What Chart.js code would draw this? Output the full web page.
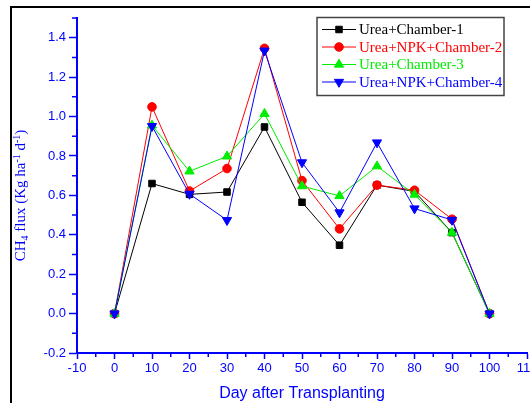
<!DOCTYPE html>
<html>
<head>
  <meta charset="UTF-8">
  <title>CH4 flux</title>
  <script src="https://cdn.jsdelivr.net/npm/chart.js"></script>
  <style>
    html, body { margin: 0; padding: 0; background: #fff; overflow: hidden; }
    #wrap { position: relative; width: 600px; height: 403px; }
  </style>
</head>
<body>
<div id="wrap"><canvas id="fluxChart"></canvas></div>

<script>
  // values
  const days = [0, 10, 20, 30, 40, 50, 60, 70, 80, 90, 100];
  const chamber1 = [0, 0.66, 0.605, 0.617, 0.947, 0.565, 0.347, 0.652, 0.62, 0.411, 0];
  const chamber2 = [0, 1.049, 0.622, 0.736, 1.346, 0.675, 0.43, 0.652, 0.626, 0.479, 0];
  const chamber3 = [0, 0.955, 0.722, 0.798, 1.014, 0.647, 0.597, 0.748, 0.604, 0.411, 0];
  const chamber4 = [0, 0.951, 0.607, 0.474, 1.334, 0.767, 0.513, 0.868, 0.533, 0.475, 0];
  const seriesLabels = ['Urea+Chamber-1', 'Urea+NPK+Chamber-2', 'Urea+Chamber-3', 'Urea+NPK+Chamber-4'];
  const xTicks = [-10, 0, 10, 20, 30, 40, 50, 60, 70, 80, 90, 100, 110];
  const yTicks = [-0.2, 0, 0.2, 0.4, 0.6, 0.8, 1.0, 1.2, 1.4];

  const axisBlue = '#0000ff';

  function pts(vals) {
    return vals.map((v, i) => ({x: days[i], y: v}));
  }

  // outer frame of the figure
  const framePlugin = {
    id: 'frame',
    beforeDraw(chart) {
      const ctx = chart.ctx;
      ctx.save();
      ctx.fillStyle = '#fff';
      ctx.fillRect(0, 0, chart.width, chart.height);
      ctx.fillStyle = '#000';
      ctx.fillRect(10, 6, 2, chart.height);
      ctx.fillRect(10, 6, chart.width, 2);
      ctx.restore();
    }
  };

  // minor ticks halfway between majors
  const minorTicks = {
    id: 'minorTicks',
    afterDraw(chart) {
      const ctx = chart.ctx;
      const xs = chart.scales.x, ys = chart.scales.y;
      ctx.save();
      ctx.strokeStyle = axisBlue;
      ctx.lineWidth = 1.5;
      ctx.beginPath();
      for (let i = 0; i < xTicks.length - 1; i++) {
        const px = xs.getPixelForValue((xTicks[i] + xTicks[i + 1]) / 2);
        ctx.moveTo(px, chart.chartArea.bottom);
        ctx.lineTo(px, chart.chartArea.bottom + 4);
      }
      const yMinor = yTicks.slice(0, -1).map((v, i) => (v + yTicks[i + 1]) / 2);
      yMinor.push(1.5);
      yMinor.forEach(v => {
        const py = ys.getPixelForValue(v);
        ctx.moveTo(chart.chartArea.left, py);
        ctx.lineTo(chart.chartArea.left - 5, py);
      });
      ctx.stroke();
      ctx.restore();
    }
  };

  // y title with subscript / superscripts
  const yTitle = {
    id: 'yTitle',
    afterDraw(chart) {
      const ctx = chart.ctx;
      const parts = [
        ['CH', 0], ['4', 1], [' flux (Kg ha', 0], ['-1', -1], [' d', 0], ['-1', -1], [')', 0]
      ];
      const big = '15px "Liberation Serif"', small = '10px "Liberation Serif"';
      ctx.save();
      ctx.fillStyle = axisBlue;
      ctx.textBaseline = 'middle';
      let total = 0;
      parts.forEach(p => { ctx.font = p[1] ? small : big; total += ctx.measureText(p[0]).width; });
      const cy = (chart.chartArea.top + chart.chartArea.bottom) / 2 + 10;
      ctx.translate(21, cy);
      ctx.rotate(-Math.PI / 2);
      let x = -total / 2;
      parts.forEach(p => {
        ctx.font = p[1] ? small : big;
        ctx.fillText(p[0], x, p[1] * 4);
        x += ctx.measureText(p[0]).width;
      });
      ctx.restore();
    }
  };

  // boxed legend in the top right corner
  const boxLegend = {
    id: 'boxLegend',
    afterDraw(chart) {
      const ctx = chart.ctx;
      const left = 317, top = 17.5, w = 187, h = 78;
      ctx.save();
      ctx.fillStyle = '#fff';
      ctx.fillRect(left, top, w, h);
      ctx.strokeStyle = '#444';
      ctx.lineWidth = 1.5;
      ctx.strokeRect(left, top, w, h);
      ctx.font = '15px "Liberation Serif"';
      ctx.textBaseline = 'middle';
      chart.data.datasets.forEach((ds, i) => {
        const y = 29.5 + i * 17.5;
        ctx.strokeStyle = ds.borderColor;
        ctx.lineWidth = 1;
        ctx.beginPath();
        ctx.moveTo(322, y);
        ctx.lineTo(356, y);
        ctx.stroke();
        ctx.fillStyle = ds.pointBackgroundColor;
        ctx.strokeStyle = ds.pointBackgroundColor;
        Chart.helpers.drawPoint(ctx, {
          pointStyle: ds.pointStyle,
          rotation: ds.pointRotation || 0,
          radius: ds.pointRadius,
          borderWidth: 1
        }, 339, y);
        ctx.fillStyle = ds.borderColor;
        ctx.fillText(ds.label, 359, y + 1);
      });
      ctx.restore();
    }
  };

  function series(label, vals, color, style, radius, rot, order) {
    return {
      label: label,
      data: pts(vals),
      borderColor: color,
      backgroundColor: color,
      pointBackgroundColor: color,
      pointBorderColor: color,
      pointBorderWidth: 1,
      pointStyle: style,
      pointRadius: radius,
      pointRotation: rot,
      borderWidth: 1,
      tension: 0,
      order: order
    };
  }

  new Chart(document.getElementById('fluxChart'), {
    type: 'line',
    data: {
      datasets: [
        series(seriesLabels[0], chamber1, '#000000', 'rect', 4.6, 0, 4),
        series(seriesLabels[1], chamber2, '#ff0000', 'circle', 4.3, 0, 3),
        series(seriesLabels[2], chamber3, '#00ee00', 'triangle', 5.3, 0, 2),
        series(seriesLabels[3], chamber4, '#0000ff', 'triangle', 5.3, 180, 1)
      ]
    },
    options: {
      responsive: true,
      maintainAspectRatio: false,
      animation: false,
      layout: { padding: { top: 18, right: 73, left: 0, bottom: 0 } },
      plugins: {
        legend: { display: false },
        tooltip: { enabled: false }
      },
      scales: {
        x: {
          type: 'linear',
          min: -10,
          max: 110,
          afterBuildTicks: s => { s.ticks = xTicks.map(v => ({value: v})); },
          afterFit: s => { s.height = 50; },
          ticks: {
            color: axisBlue,
            font: { family: 'Liberation Sans', size: 13 },
            padding: 2,
            maxRotation: 0,
            autoSkip: false
          },
          grid: {
            drawOnChartArea: false,
            drawTicks: true,
            tickLength: 6,
            tickWidth: 1.5,
            tickColor: axisBlue
          },
          border: { display: true, color: axisBlue, width: 2 },
          title: {
            display: true,
            text: 'Day after Transplanting',
            color: axisBlue,
            font: { family: 'Liberation Sans', size: 16 },
            padding: { top: 0, bottom: 0 }
          }
        },
        y: {
          min: -0.2,
          max: 1.5,
          afterBuildTicks: s => { s.ticks = yTicks.map(v => ({value: v})); },
          afterFit: s => { s.width = 77; },
          ticks: {
            color: axisBlue,
            font: { family: 'Liberation Sans', size: 13 },
            padding: 3,
            callback: v => Number(v).toFixed(1)
          },
          grid: {
            drawOnChartArea: false,
            drawTicks: true,
            tickLength: 8,
            tickWidth: 1.5,
            tickColor: axisBlue
          },
          border: { display: true, color: axisBlue, width: 2 }
        }
      }
    },
    plugins: [framePlugin, minorTicks, yTitle, boxLegend]
  });
</script>
</body>
</html>
